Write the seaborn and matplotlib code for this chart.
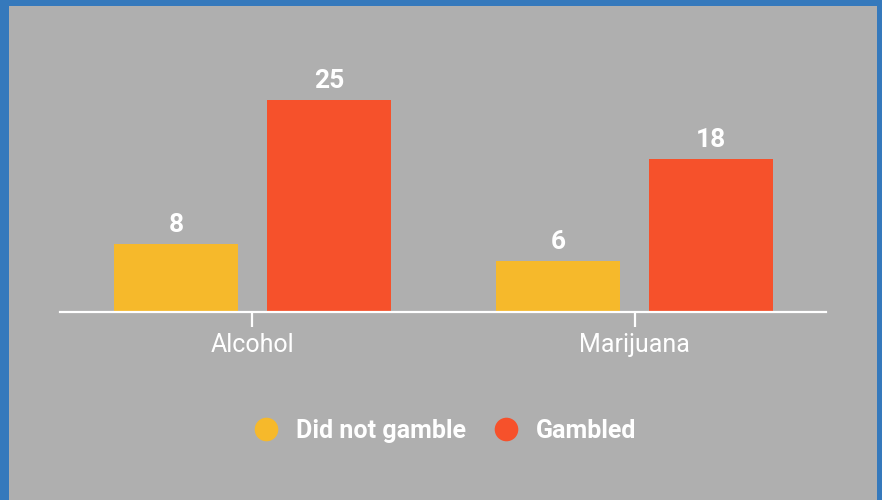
import matplotlib
matplotlib.use("Agg")
import matplotlib.pyplot as plt
import seaborn as sns
import pandas as pd
from matplotlib.lines import Line2D
from matplotlib.patches import Rectangle

categories = ["Alcohol", "Marijuana"]
series_names = ["Did not gamble", "Gambled"]
did_not_gamble = [8, 6]
gambled = [25, 18]
colors = ["#F6B92B", "#F6512B"]

df = pd.DataFrame({
    "substance": categories * 2,
    "group": [series_names[0]] * 2 + [series_names[1]] * 2,
    "value": did_not_gamble + gambled,
})

sns.set_theme(style="white")
plt.rcParams["font.family"] = ["Roboto", "DejaVu Sans"]

W, H = 882, 500
fig = plt.figure(figsize=(W / 100, H / 100), dpi=100)
fig.patch.set_facecolor("#3579BC")
fig.add_artist(Rectangle((9 / W, 0), 868 / W, 494 / H, transform=fig.transFigure,
                         facecolor="#AFAFAF", edgecolor="none", zorder=0))

ax_left, ax_right, ax_bottom_px, ax_top_px = 60, 826, 312, 60
ax = fig.add_axes([ax_left / W, (H - ax_bottom_px) / H,
                   (ax_right - ax_left) / W, (ax_bottom_px - ax_top_px) / H])
ax.set_facecolor("none")

sns.barplot(data=df, x="substance", y="value", hue="group", palette=colors,
            hue_order=series_names, order=categories, width=0.8, gap=0.19,
            ax=ax, legend=False, saturation=1, edgecolor="none", linewidth=0)

for cont in ax.containers:
    ax.bar_label(cont, fmt="%d", padding=5, color="white", fontsize=19,
                 fontweight="bold")

ax.set_xlim(-0.503, 1.5)
ax.set_ylim(0, 29.72)
ax.set_xlabel("")
ax.set_ylabel("")
ax.set_yticks([])
for s in ["left", "right", "top"]:
    ax.spines[s].set_visible(False)
ax.spines["bottom"].set_color("white")
ax.spines["bottom"].set_linewidth(1.6)
ax.tick_params(axis="x", colors="white", length=11, width=1.6, direction="out",
               labelsize=18, pad=4, bottom=True)
for t in ax.get_xticklabels():
    t.set_color("white")

handles = [Line2D([0], [0], marker="o", linestyle="none", markersize=17,
                  markerfacecolor=c, markeredgecolor="none") for c in colors]
leg = fig.legend(handles, series_names, loc="center", bbox_to_anchor=(0.497, 0.138),
                 ncol=2, frameon=False, handletextpad=0.2, columnspacing=0.6,
                 prop={"weight": "bold", "size": 18})
for t in leg.get_texts():
    t.set_color("white")

fig.savefig("out.png", dpi=100, facecolor=fig.get_facecolor())
